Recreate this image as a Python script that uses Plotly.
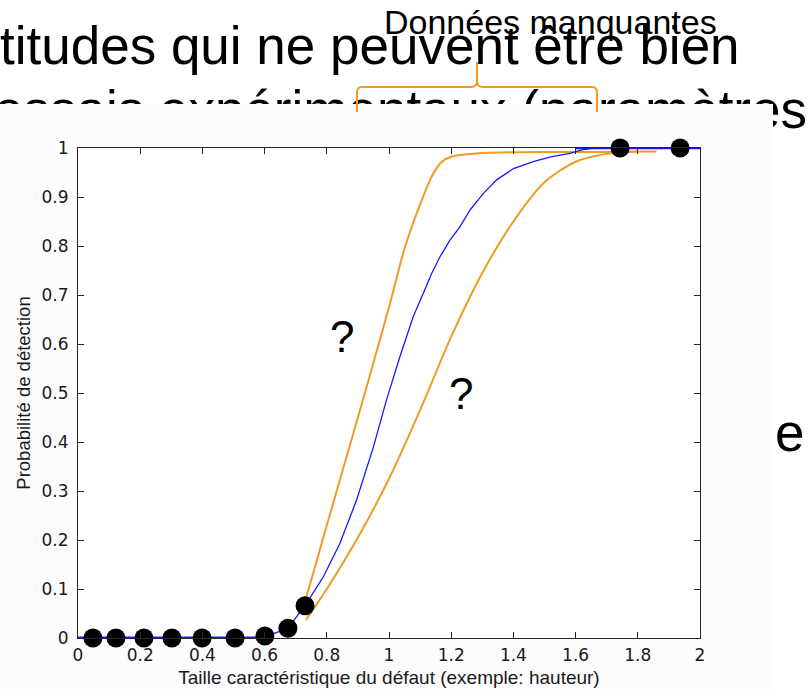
import plotly.graph_objects as go

# ---- chart data ---------------------------------------------------------
# observed hit/miss results (defect size vs detection rate)
obs_size = [0.048, 0.122, 0.212, 0.302, 0.399, 0.505, 0.601, 0.675, 0.730, 1.743, 1.936]
obs_pod = [0.0, 0.0, 0.0, 0.0, 0.0, 0.0, 0.004, 0.020, 0.066, 1.0, 1.0]

# mean POD curve
mean_size = [0.600, 0.675, 0.730, 0.789, 0.842, 0.896, 0.950, 0.992, 1.035, 1.078,
             1.110, 1.137, 1.164, 1.196, 1.228, 1.260, 1.303, 1.346, 1.400, 1.464,
             1.520, 1.582, 1.620, 1.660, 2.000]
mean_pod = [0.002, 0.020, 0.066, 0.125, 0.193, 0.282, 0.390, 0.486, 0.574, 0.656,
            0.703, 0.744, 0.778, 0.812, 0.839, 0.873, 0.907, 0.935, 0.958, 0.972,
            0.982, 0.989, 0.996, 1.000, 1.000]
# flat parts of the mean curve drawn with a heavier stroke
flat_low_size = [0.0, 0.60]
flat_low_pod = [0.0, 0.0]
flat_high_size = [1.60, 2.0]
flat_high_pod = [1.0, 1.0]

# upper and lower possible curves (unknown region)
upper_size = [0.730, 0.800, 0.900, 1.000, 1.050, 1.100, 1.140, 1.170, 1.200, 1.300, 1.500, 1.700, 1.860]
upper_pod = [0.074, 0.230, 0.450, 0.675, 0.795, 0.885, 0.945, 0.972, 0.982, 0.990, 0.992, 0.992, 0.993]
lower_size = [0.733, 0.800, 0.900, 1.000, 1.100, 1.200, 1.300, 1.400, 1.500, 1.600, 1.700, 1.800]
lower_pod = [0.037, 0.100, 0.205, 0.325, 0.465, 0.615, 0.745, 0.850, 0.930, 0.972, 0.988, 0.993]

x_ticks = [0, 0.2, 0.4, 0.6, 0.8, 1.0, 1.2, 1.4, 1.6, 1.8, 2.0]
x_ticktext = ["0", "0.2", "0.4", "0.6", "0.8", "1", "1.2", "1.4", "1.6", "1.8", "2"]
y_ticks = [0, 0.1, 0.2, 0.3, 0.4, 0.5, 0.6, 0.7, 0.8, 0.9, 1.0]
y_ticktext = ["0", "0.1", "0.2", "0.3", "0.4", "0.5", "0.6", "0.7", "0.8", "0.9", "1"]

# ---- page geometry (pixels) ---------------------------------------------
W, H = 809, 689
PLOT_L, PLOT_R, PLOT_T, PLOT_B = 78, 700, 148, 638
PANEL_RIGHT, PANEL_TOP = 773, 104

ORANGE = "#F29A26"
BLUE = "#1a1aff"
SANS = "Liberation Sans, Arial, sans-serif"

fig = go.Figure()

# slide text behind the chart panel (page coordinates on axes x/y)
fig.add_trace(go.Scatter(x=[0], y=[51], mode="text", text=["titudes qui ne peuvent être bien"],
                         textposition="middle right", textfont=dict(family=SANS, size=53, color="black"),
                         hoverinfo="skip", showlegend=False, xaxis="x", yaxis="y"))
fig.add_trace(go.Scatter(x=[807], y=[115], mode="text", text=["essais expérimentaux (paramètres"],
                         textposition="middle left", textfont=dict(family=SANS, size=53, color="black"),
                         hoverinfo="skip", showlegend=False, xaxis="x", yaxis="y"))
fig.add_trace(go.Scatter(x=[775], y=[437.5], mode="text", text=["e"],
                         textposition="middle right", textfont=dict(family=SANS, size=53, color="black"),
                         hoverinfo="skip", showlegend=False, xaxis="x", yaxis="y"))
# white chart panel covering the slide text
fig.add_trace(go.Scatter(x=[-5, PANEL_RIGHT, PANEL_RIGHT, -5, -5],
                         y=[PANEL_TOP, PANEL_TOP, H + 5, H + 5, PANEL_TOP],
                         mode="lines", fill="toself", fillcolor="#fcfcfc",
                         line=dict(width=0, color="#fcfcfc"),
                         hoverinfo="skip", showlegend=False, xaxis="x", yaxis="y"))

# ---- POD chart (axes x2/y2) ------------------------------------------------
common = dict(xaxis="x2", yaxis="y2", showlegend=False, hoverinfo="skip", cliponaxis=False)
fig.add_trace(go.Scatter(x=upper_size, y=upper_pod, mode="lines",
                         line=dict(color=ORANGE, width=2, shape="spline", smoothing=0.6), **common))
fig.add_trace(go.Scatter(x=lower_size, y=lower_pod, mode="lines",
                         line=dict(color=ORANGE, width=2, shape="spline", smoothing=0.8), **common))
fig.add_trace(go.Scatter(x=flat_low_size, y=flat_low_pod, mode="lines",
                         line=dict(color=BLUE, width=3), **common))
fig.add_trace(go.Scatter(x=flat_high_size, y=flat_high_pod, mode="lines",
                         line=dict(color=BLUE, width=2.5), **common))
fig.add_trace(go.Scatter(x=mean_size, y=mean_pod, mode="lines",
                         line=dict(color=BLUE, width=1.3), **common))
fig.add_trace(go.Scatter(x=obs_size, y=obs_pod, mode="markers",
                         marker=dict(color="black", size=19, line=dict(width=0)), **common))

axis_style = dict(showline=True, linecolor="#262626", linewidth=1, mirror="ticks",
                  ticks="inside", ticklen=6, tickcolor="#262626", showgrid=False,
                  zeroline=False, fixedrange=True, automargin=False,
                  tickfont=dict(family="DejaVu Sans, sans-serif", size=17, color="#1a1a1a"))

fig.update_layout(
    width=W, height=H,
    margin=dict(l=0, r=0, t=0, b=0, pad=0, autoexpand=False),
    paper_bgcolor="white", plot_bgcolor="white",
    xaxis=dict(domain=[0, 1], range=[0, W], visible=False, fixedrange=True, automargin=False),
    yaxis=dict(domain=[0, 1], range=[H, 0], visible=False, fixedrange=True, automargin=False),
    xaxis2=dict(domain=[PLOT_L / W, PLOT_R / W], anchor="y2", range=[0, 2],
                tickvals=x_ticks, ticktext=x_ticktext, ticklabelstandoff=2,
                title=dict(text="Taille caractéristique du défaut (exemple: hauteur)",
                           font=dict(family=SANS, size=19, color="#1a1a1a"), standoff=6),
                **axis_style),
    yaxis2=dict(domain=[(H - PLOT_B) / H, (H - PLOT_T) / H], anchor="x2", range=[0, 1],
                tickvals=y_ticks, ticktext=y_ticktext, ticklabelstandoff=5,
                title=dict(text="Probabilité de détection",
                           font=dict(family=SANS, size=18.5, color="#1a1a1a"), standoff=6),
                **axis_style),
    shapes=[dict(type="path", xref="x", yref="y", layer="above",
                 path="M357,112 L357,92 Q357,87 362,87 L471,87 Q477,87 477,81 L477,62 "
                      "M477,81 Q477,87 483,87 L592,87 Q597,87 597,92 L597,112",
                 line=dict(color=ORANGE, width=2))],
    annotations=[
        dict(text="Données manquantes", xref="x", yref="y", x=550, y=42,
             xanchor="center", yanchor="bottom", showarrow=False, borderpad=0,
             font=dict(family=SANS, size=34, color="black")),
        dict(text="?", xref="x2", yref="y2", x=0.850, y=0.616, showarrow=False,
             font=dict(family=SANS, size=44, color="black")),
        dict(text="?", xref="x2", yref="y2", x=1.230, y=0.498, showarrow=False,
             font=dict(family=SANS, size=44, color="black")),
    ],
)

fig.write_html("out.html")
